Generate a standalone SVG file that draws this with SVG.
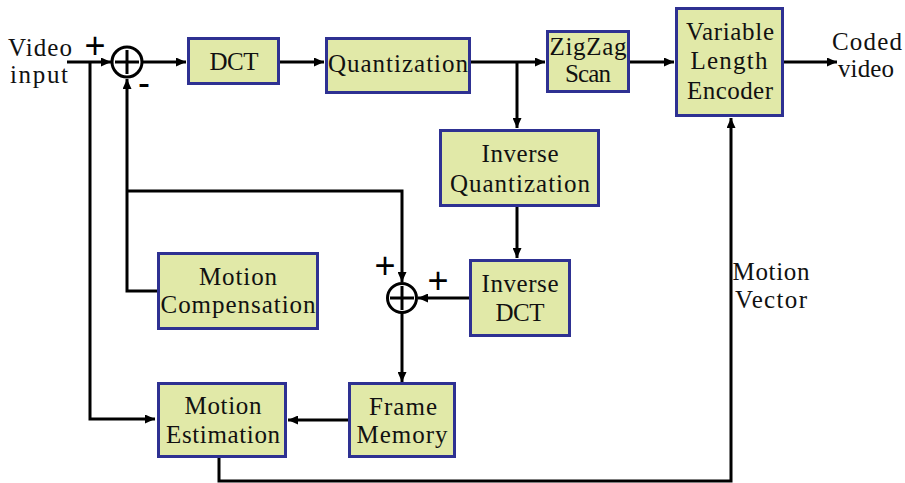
<svg xmlns="http://www.w3.org/2000/svg" width="905" height="483" viewBox="0 0 905 483">
  <style>
    .box { fill: #e1e9a8; stroke: #2e3192; stroke-width: 3; }
    .lbl { font-family: "Liberation Serif", "Times New Roman", serif; font-size: 25px; fill: #111; text-anchor: middle; }
    .sign { font-family: "Liberation Sans", Arial, sans-serif; font-size: 36px; fill: #000; text-anchor: middle; }
    .wire { fill: none; stroke: #000; stroke-width: 3; stroke-linejoin: miter; }
    .adder { fill: #fff; stroke: #000; stroke-width: 3; }
    .cross { stroke: #000; stroke-width: 3; }
  </style>
  <defs>
    <marker id="arrow" markerUnits="userSpaceOnUse" markerWidth="11" markerHeight="9" refX="10" refY="4.5" orient="auto">
      <path d="M0,0 L10,4.5 L0,9 Z" fill="#000"/>
    </marker>
  </defs>

  <rect width="905" height="483" fill="#fff"/>

  <!-- connectors -->
  <g id="connectors" class="wire" marker-end="url(#arrow)">
    <path d="M67,62 H111"/>
    <path d="M90,62 V419 H155"/>
    <path d="M143,62 H186"/>
    <path d="M280,62 H324"/>
    <path d="M471,62 H545"/>
    <path d="M517,62 V128"/>
    <path d="M630,62 H674"/>
    <path d="M784,62 H837"/>
    <path d="M517,207 V258"/>
    <path d="M470,298 H418"/>
    <path d="M157,291 H127 V79"/>
    <path d="M127,191 H402 V282"/>
    <path d="M402,313 V382"/>
    <path d="M348,420 H288"/>
    <path d="M219,458 V481 H731 V118"/>
  </g>

  <!-- summing junctions -->
  <g id="sum-input">
    <circle class="adder" cx="127" cy="62" r="15"/>
    <line class="cross" x1="115" y1="62" x2="139" y2="62"/>
    <line class="cross" x1="127" y1="50" x2="127" y2="74"/>
  </g>
  <g id="sum-recon">
    <circle class="adder" cx="402" cy="298" r="14.5"/>
    <line class="cross" x1="390" y1="298" x2="414" y2="298"/>
    <line class="cross" x1="402" y1="286" x2="402" y2="310"/>
  </g>

  <!-- sign marks -->
  <g id="signs">
    <text class="sign" x="95" y="58">+</text>
    <text class="sign" x="144" y="95">-</text>
    <text class="sign" x="385" y="278">+</text>
    <text class="sign" x="438" y="293">+</text>
  </g>

  <!-- input / output labels -->
  <g id="video-input">
    <text class="lbl" x="40" y="56" textLength="64" lengthAdjust="spacing">Video</text>
    <text class="lbl" x="39" y="83" textLength="58" lengthAdjust="spacing">input</text>
  </g>
  <g id="coded-video">
    <text class="lbl" x="867" y="50" textLength="70" lengthAdjust="spacing">Coded</text>
    <text class="lbl" x="866" y="77" textLength="56" lengthAdjust="spacing">video</text>
  </g>
  <g id="motion-vector">
    <text class="lbl" x="771" y="280" textLength="77" lengthAdjust="spacing">Motion</text>
    <text class="lbl" x="771" y="308" textLength="72" lengthAdjust="spacing">Vector</text>
  </g>

  <!-- blocks -->
  <g id="dct">
    <rect class="box" x="188.5" y="38.5" width="90" height="45"/>
    <text class="lbl" x="234" y="70" textLength="49" lengthAdjust="spacing">DCT</text>
  </g>
  <g id="quantization">
    <rect class="box" x="326.5" y="38.5" width="143" height="54"/>
    <text class="lbl" x="398" y="72" textLength="140" lengthAdjust="spacing">Quantization</text>
  </g>
  <g id="zigzag-scan">
    <rect class="box" x="547.5" y="31.5" width="81" height="60"/>
    <text class="lbl" x="588" y="55" textLength="77" lengthAdjust="spacing">ZigZag</text>
    <text class="lbl" x="588" y="82" textLength="46" lengthAdjust="spacing">Scan</text>
  </g>
  <g id="vlc">
    <rect class="box" x="676.5" y="8.5" width="106" height="107"/>
    <text class="lbl" x="730" y="40" textLength="88" lengthAdjust="spacing">Variable</text>
    <text class="lbl" x="729" y="69" textLength="77" lengthAdjust="spacing">Length</text>
    <text class="lbl" x="730" y="99" textLength="86" lengthAdjust="spacing">Encoder</text>
  </g>
  <g id="inverse-quantization">
    <rect class="box" x="440.5" y="130.5" width="158" height="75"/>
    <text class="lbl" x="520" y="162" textLength="77" lengthAdjust="spacing">Inverse</text>
    <text class="lbl" x="520" y="192" textLength="140" lengthAdjust="spacing">Quantization</text>
  </g>
  <g id="inverse-dct">
    <rect class="box" x="470.5" y="260.5" width="99" height="75"/>
    <text class="lbl" x="520" y="292" textLength="77" lengthAdjust="spacing">Inverse</text>
    <text class="lbl" x="520" y="321" textLength="49" lengthAdjust="spacing">DCT</text>
  </g>
  <g id="motion-compensation">
    <rect class="box" x="158.5" y="253.5" width="159" height="75"/>
    <text class="lbl" x="238" y="285" textLength="78" lengthAdjust="spacing">Motion</text>
    <text class="lbl" x="238" y="313" textLength="155" lengthAdjust="spacing">Compensation</text>
  </g>
  <g id="motion-estimation">
    <rect class="box" x="158.5" y="383.5" width="127" height="73"/>
    <text class="lbl" x="223" y="414" textLength="77" lengthAdjust="spacing">Motion</text>
    <text class="lbl" x="223" y="443" textLength="114" lengthAdjust="spacing">Estimation</text>
  </g>
  <g id="frame-memory">
    <rect class="box" x="349.5" y="383.5" width="105" height="73"/>
    <text class="lbl" x="403" y="415" textLength="68" lengthAdjust="spacing">Frame</text>
    <text class="lbl" x="402" y="443" textLength="91" lengthAdjust="spacing">Memory</text>
  </g>
</svg>
